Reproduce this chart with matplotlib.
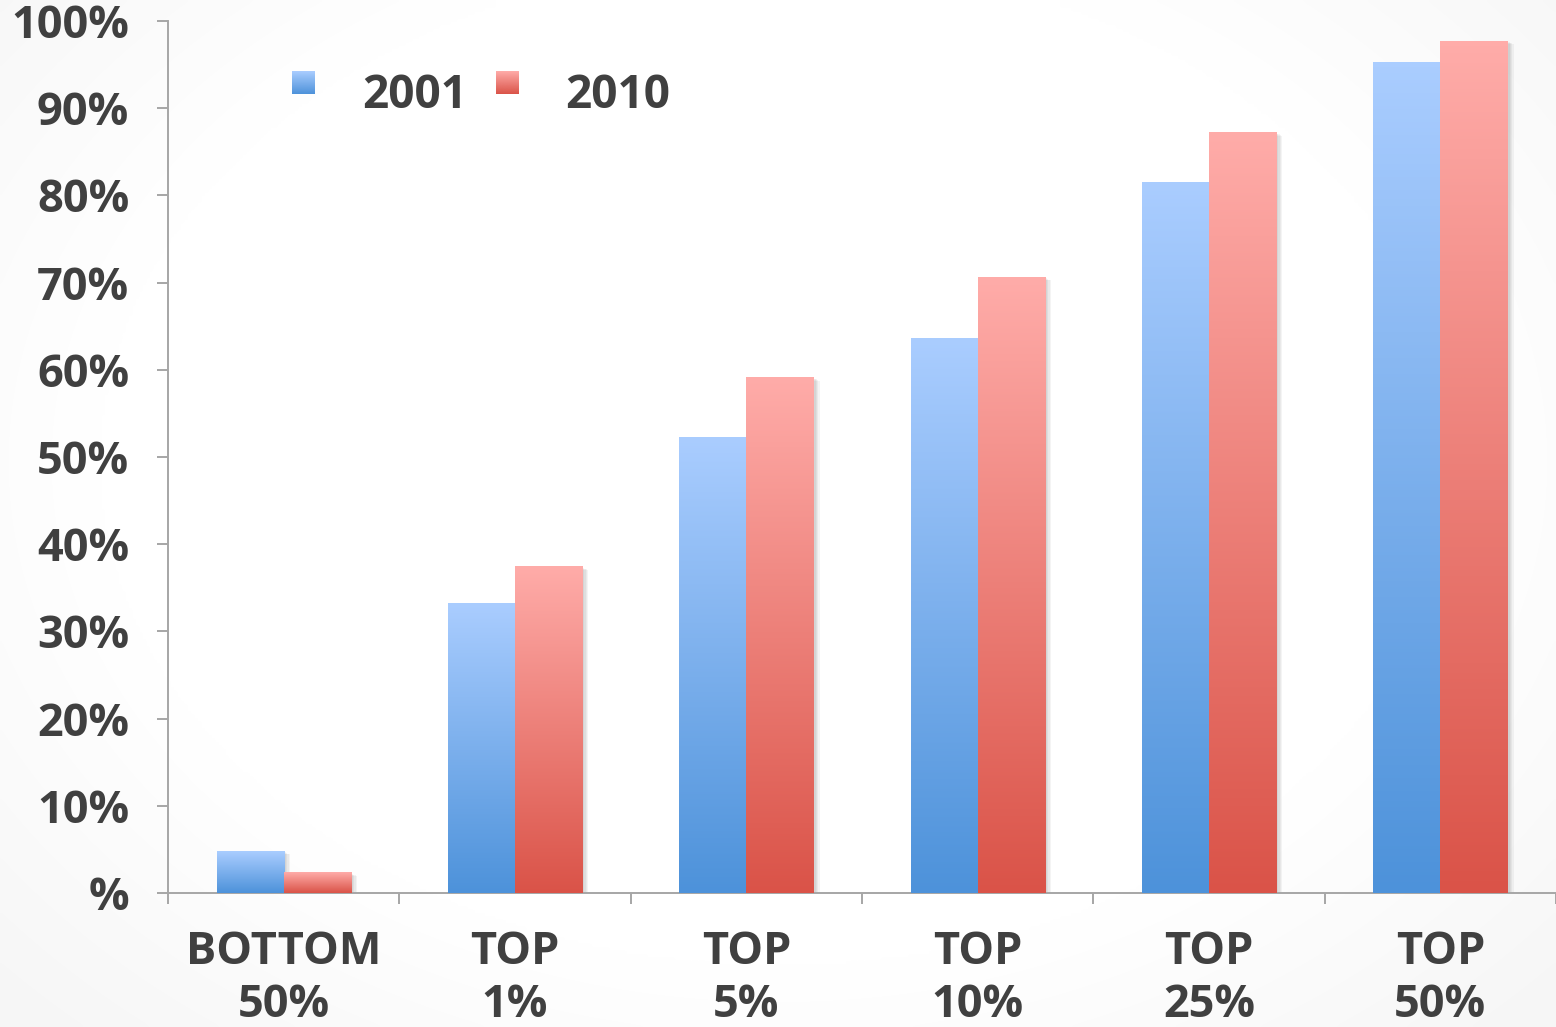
import numpy as np
import matplotlib
matplotlib.use("Agg")
import matplotlib.pyplot as plt
from matplotlib.colors import LinearSegmentedColormap
from matplotlib.patches import Patch
from matplotlib.legend_handler import HandlerBase
from matplotlib.image import BboxImage
from matplotlib.transforms import Bbox, TransformedBbox
import matplotlib.patheffects as pe

# Share of federal income taxes paid, by income group
categories = ["BOTTOM\n50%", "TOP\n1%", "TOP\n5%", "TOP\n10%", "TOP\n25%", "TOP\n50%"]
share_2001 = [4.8, 33.2, 52.2, 63.6, 81.5, 95.2]
share_2010 = [2.3, 37.4, 59.1, 70.6, 87.2, 97.7]
years = ["2001", "2010"]
y_ticks = [0, 10, 20, 30, 40, 50, 60, 70, 80, 90, 100]
y_tick_labels = ["%", "10%", "20%", "30%", "40%", "50%", "60%", "70%", "80%", "90%", "100%"]

TEXT = "#404040"
AXIS = "#a6a6a6"
FONT = "Open Sans"
FS = 32.5

blue_cmap = LinearSegmentedColormap.from_list("blue", ["#4d92da", "#aacdff"])
red_cmap = LinearSegmentedColormap.from_list("red", ["#da5348", "#ffaca9"])
grad = np.linspace(0, 1, 256).reshape(-1, 1)

fig = plt.figure(figsize=(15.56, 10.27), dpi=100)

# faint vignette behind everything
bg = fig.add_axes([0, 0, 1, 1], zorder=-10)
yy, xx = np.mgrid[0:1:300j, 0:1:450j]
r = np.sqrt(((xx - 0.5) / 0.55) ** 2 + ((yy - 0.55) / 0.62) ** 2)
v = np.clip((r - 0.8) / 0.45, 0, 1)
shade = 1 - 0.035 * v
bg.imshow(np.dstack([shade, shade, shade]), extent=[0, 1, 0, 1], aspect="auto",
          origin="lower", interpolation="bicubic")
bg.set_axis_off()

ax = fig.add_axes([0.108, 0.1305, 0.892, 0.8491])
ax.patch.set_alpha(0)

x = np.arange(len(categories))
w = 0.29

shadow = [pe.SimplePatchShadow(offset=(o, -o * 0.5), shadow_rgbFace="black", alpha=0.045)
          for o in (0.5, 1.5, 2.5, 3.5, 4.5)] + [pe.Normal()]

series = [(x - w / 2, share_2001, blue_cmap), (x + w / 2, share_2010, red_cmap)]
for pos, vals, cmap in series:
    bars = ax.bar(pos, vals, w, color=cmap(0.5), zorder=2, path_effects=shadow)
    for b in bars:
        bx, bw, bh = b.get_x(), b.get_width(), b.get_height()
        ax.imshow(grad, cmap=cmap, extent=[bx, bx + bw, 0, bh], aspect="auto",
                  origin="lower", interpolation="bicubic", zorder=3)

ax.set_xlim(-0.5, len(categories) - 0.5)
ax.set_ylim(0, 100)

for s in ("top", "right"):
    ax.spines[s].set_visible(False)
for s in ("left", "bottom"):
    ax.spines[s].set_color(AXIS)
    ax.spines[s].set_linewidth(1.4)

ax.set_yticks(y_ticks)
ax.set_yticklabels(y_tick_labels)
ax.tick_params(axis="y", direction="out", length=8, width=1.4, color=AXIS, pad=20,
               labelsize=FS, labelcolor=TEXT)
ax.set_xticks(x)
ax.set_xticklabels(categories, linespacing=1.22)
ax.set_xticks(np.arange(-0.5, len(categories)), minor=True)
ax.tick_params(axis="x", which="major", length=0, pad=27, labelsize=FS, labelcolor=TEXT)
ax.tick_params(axis="x", which="minor", direction="out", length=8, width=1.4, color=AXIS)
for lab in ax.get_xticklabels() + ax.get_yticklabels():
    lab.set_fontfamily(FONT)
    lab.set_fontweight("bold")


class GradientSquare(HandlerBase):
    def __init__(self, cmap):
        super().__init__()
        self.cmap = cmap

    def create_artists(self, legend, orig_handle, xdescent, ydescent, width, height,
                       fontsize, trans):
        s = min(width, height)
        x0 = -xdescent + (width - s) / 2
        y0 = -ydescent + (height - s) / 2 + 0.2 * fontsize
        box = TransformedBbox(Bbox.from_bounds(x0, y0, s, s), trans)
        img = BboxImage(box, cmap=self.cmap, interpolation="bicubic", origin="lower")
        img.set_data(grad)
        return [img]


h1, h2 = Patch(), Patch()
leg = ax.legend([h1, h2], years, ncol=2, frameon=False,
                handler_map={h1: GradientSquare(blue_cmap), h2: GradientSquare(red_cmap)},
                loc="center left", bbox_to_anchor=(292 / 1556, 1 - 95 / 1027),
                bbox_transform=fig.transFigure, borderpad=0, borderaxespad=0,
                handlelength=0.5, handleheight=0.5, handletextpad=1.03, columnspacing=0.62,
                prop={"family": FONT, "weight": "bold", "size": 33})
for t in leg.get_texts():
    t.set_color(TEXT)

fig.savefig("out.png", dpi=100)
